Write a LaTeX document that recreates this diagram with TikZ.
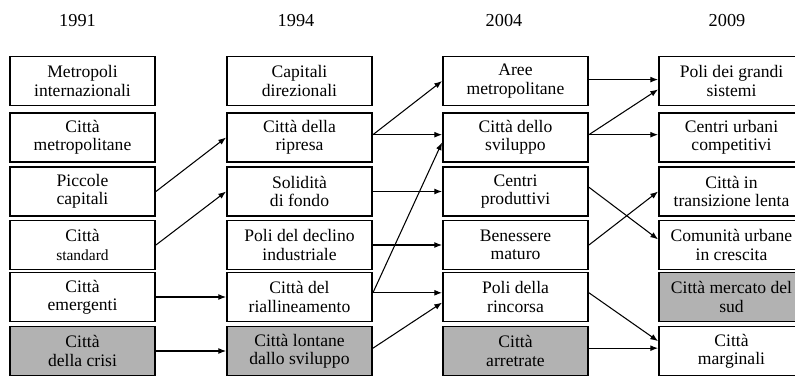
\documentclass[tikz,border=0pt]{standalone}
\usepackage{fontspec}
\setmainfont{Liberation Serif}
\usetikzlibrary{arrows.meta}
\begin{document}
\begin{tikzpicture}[x=0.025cm, y=-0.025cm,
		box/.style={draw, line width=1.3pt, minimum width=3.625cm, minimum height=1.225cm, align=center, inner sep=1pt, font=\fontsize{12.5}{13}\selectfont},
		crisis/.style={box, fill=black!30},
		year/.style={font=\fontsize{13}{14}\selectfont},
		link/.style={-{Latex[length=5.5pt,width=4.2pt]}, line width=0.75pt}]
			\useasboundingbox (0,0) rectangle (795,375);
			\node[year] (y1) at (77.5,21) {1991};
			\node[year] (y2) at (296,21) {1994};
			\node[year] (y3) at (504,21) {2004};
			\node[year] (y4) at (727,21) {2009};
			% 1991
			\node[box] (m1) at (82.5,81) {Metropoli\\internazionali};
			\node[box] (m2) at (82.5,137.5) {Città\\metropolitane};
			\node[box] (m3) at (82.5,191.5) {Piccole\\capitali};
			\node[box] (m4) at (82.5,245) {Città\\{\fontsize{11}{12}\selectfont standard}};
			\node[box] (m5) at (82.5,297) {Città\\emergenti};
			\node[crisis] (m6) at (82.5,351) {Città\\della crisi};
			% 1994
			\node[box] (d1) at (299.5,81) {Capitali\\direzionali};
			\node[box] (d2) at (299.5,137.5) {Città della\\ripresa};
			\node[box] (d3) at (299.5,191.5) {Solidità\\di fondo};
			\node[box] (d4) at (299.5,245) {Poli del declino\\industriale};
			\node[box] (d5) at (299.5,297) {Città del\\riallineamento};
			\node[crisis] (d6) at (299.5,351) {Città lontane\\dallo sviluppo};
			% 2004
			\node[box] (a1) at (515.5,81) {Aree\\metropolitane};
			\node[box] (a2) at (515.5,137.5) {Città dello\\sviluppo};
			\node[box] (a3) at (515.5,191.5) {Centri\\produttivi};
			\node[box] (a4) at (515.5,245) {Benessere\\maturo};
			\node[box] (a5) at (515.5,297) {Poli della\\rincorsa};
			\node[crisis] (a6) at (515.5,351) {Città\\arretrate};
			% 2009
			\node[box] (n1) at (731.5,81) {Poli dei grandi\\sistemi};
			\node[box] (n2) at (731.5,137.5) {Centri urbani\\competitivi};
			\node[box] (n3) at (731.5,191.5) {Città in\\transizione lenta};
			\node[box] (n4) at (731.5,245) {Comunità urbane\\in crescita};
			\node[crisis] (n5) at (731.5,297) {Città mercato del\\sud};
			\node[box] (n6) at (731.5,351) {Città\\marginali};
			% 1991 -> 1994
			\draw[link] (m3.east) -- (d2.west);
			\draw[link] (m4.east) -- (d3.west);
			\draw[link] (m5.east) -- (d5.west);
			\draw[link] (m6.east) -- (d6.west);
			% 1994 -> 2004
			\draw[link] ([yshift=2pt]d2.east) -- (a1.west);
			\draw[link] ([yshift=2pt]d2.east) -- ([yshift=2pt]a2.west);
			\draw[link] (d3.east) -- (a3.west);
			\draw[link] (d4.east) -- (a4.west);
			\draw[link] ([yshift=3pt]d5.east) -- ([yshift=-3.5pt]a2.west);
			\draw[link] ([yshift=3pt]d5.east) -- ([yshift=3pt]a5.west);
			\draw[link] ([yshift=2pt]d6.east) -- ([yshift=-4pt]a5.west);
			% 2004 -> 2009
			\draw[link] ([yshift=1pt]a1.east) -- ([yshift=1pt]n1.west);
			\draw[link] ([yshift=2pt]a2.east) -- ([yshift=-6pt]n1.west);
			\draw[link] ([yshift=2pt]a2.east) -- ([yshift=2pt]n2.west);
			\draw[link] ([yshift=3pt]a3.east) -- ([yshift=4pt]n4.west);
			\draw[link] (a4.east) -- (n3.west);
			\draw[link] ([yshift=3pt]a5.east) -- ([yshift=7pt]n6.west);
			\draw[link] ([yshift=2pt]a6.east) -- ([yshift=2pt]n6.west);
		\end{tikzpicture}
\end{document}
